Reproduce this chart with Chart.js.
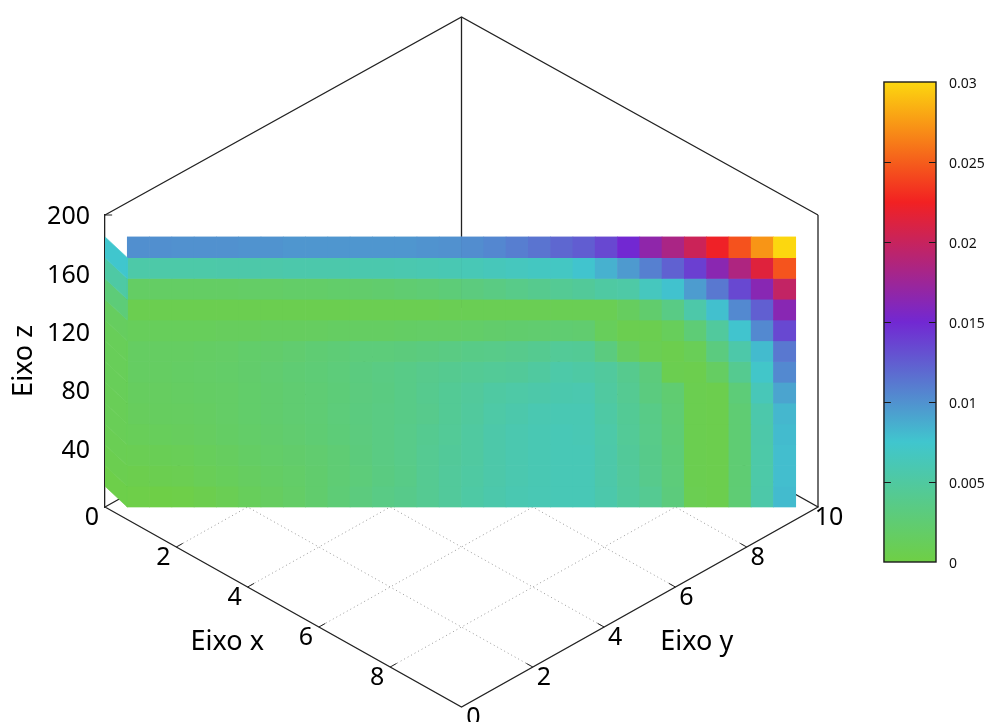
<!DOCTYPE html>
<html>
<head>
<meta charset="utf-8">
<style>html,body{margin:0;padding:0;background:#fff}canvas{display:block}</style>
<script src="https://cdn.jsdelivr.net/npm/chart.js@4"></script>
</head>
<body>
<canvas id="c" width="988" height="722"></canvas>
<script>
// ---- data ----
const row0 =[.0101,.0101,.0100,.0100,.0100,.0099,.0099,.0098,.0098,.0098,.0098,.0098,.0098,.0099,.0100,.0102,.0105,.0109,.0114,.0120,.0125,.0135,.0150,.0167,.0183,.0202,.0223,.0245,.0273,.0300];
const row1 =[.0054,.0054,.0054,.0054,.0055,.0055,.0055,.0056,.0056,.0056,.0057,.0057,.0058,.0059,.0060,.0062,.0064,.0066,.0068,.0069,.0076,.0085,.0096,.0108,.0123,.0139,.0164,.0185,.0214,.0246];
const row2 =[.0017,.0017,.0017,.0017,.0017,.0018,.0018,.0019,.0019,.0020,.0021,.0022,.0024,.0026,.0028,.0031,.0034,.0037,.0040,.0043,.0046,.0051,.0053,.0066,.0077,.0095,.0112,.0135,.0163,.0197];
const row3 =[.0006,.0006,.0006,.0006,.0006,.0006,.0006,.0006,.0006,.0006,.0007,.0007,.0007,.0007,.0008,.0008,.0008,.0008,.0008,.0008,.0008,.0008,.0014,.0022,.0035,.0055,.0078,.0104,.0124,.0163];
const row4 =[.0012,.0012,.0012,.0012,.0013,.0013,.0014,.0014,.0015,.0016,.0016,.0016,.0017,.0018,.0018,.0019,.0021,.0022,.0023,.0024,.0023,.0012,.0006,.0006,.0012,.0027,.0048,.0076,.0104,.0135];
const row5 =[.0016,.0016,.0016,.0017,.0018,.0020,.0021,.0023,.0025,.0027,.0029,.0029,.0030,.0032,.0034,.0036,.0037,.0039,.0041,.0045,.0044,.0032,.0016,.0008,.0005,.0010,.0032,.0055,.0080,.0112];
const row6 =[.0016,.0016,.0017,.0018,.0019,.0021,.0023,.0025,.0027,.0029,.0032,.0034,.0036,.0039,.0041,.0043,.0045,.0046,.0049,.0054,.0052,.0048,.0040,.0030,.0006,.0005,.0016,.0041,.0072,.0104];
const row7 =[.0014,.0015,.0016,.0017,.0018,.0020,.0022,.0024,.0026,.0028,.0031,.0033,.0036,.0040,.0044,.0047,.0051,.0053,.0055,.0057,.0058,.0050,.0042,.0032,.0024,.0006,.0005,.0028,.0063,.0091];
const row8 =[.0013,.0014,.0015,.0016,.0018,.0020,.0022,.0024,.0026,.0029,.0032,.0034,.0036,.0039,.0044,.0048,.0053,.0056,.0059,.0060,.0060,.0052,.0044,.0036,.0026,.0006,.0005,.0025,.0056,.0082];
const row9 =[.0011,.0012,.0013,.0015,.0017,.0019,.0021,.0023,.0025,.0028,.0031,.0034,.0037,.0041,.0045,.0050,.0055,.0058,.0060,.0062,.0061,.0054,.0045,.0037,.0027,.0006,.0005,.0025,.0055,.0080];
const row10=[.0008,.0009,.0010,.0012,.0014,.0017,.0019,.0021,.0023,.0026,.0030,.0034,.0037,.0042,.0046,.0050,.0055,.0058,.0060,.0062,.0062,.0055,.0046,.0038,.0028,.0006,.0005,.0025,.0054,.0079];
const row11=[.0005,.0006,.0007,.0010,.0012,.0015,.0017,.0019,.0022,.0026,.0029,.0033,.0036,.0042,.0047,.0051,.0055,.0058,.0060,.0062,.0062,.0055,.0047,.0039,.0029,.0006,.0005,.0025,.0054,.0079];
const row12=[.0002,.0001,.0002,.0005,.0008,.0012,.0015,.0018,.0022,.0027,.0031,.0035,.0038,.0042,.0047,.0052,.0056,.0059,.0061,.0062,.0062,.0056,.0048,.0042,.0030,.0007,.0005,.0026,.0055,.0080];
const sideColumn=[.0075,.0052,.0028,.0014,.0011,.0011,.0011,.0010,.0010,.0008,.0006,.0003];
const rows=[row0,row1,row2,row3,row4,row5,row6,row7,row8,row9,row10,row11,row12];

const xTicks=[0,2,4,6,8];
const yTicks=[2,4,6,8,10];
const zTicks=[0,40,80,120,160,200];
const cbTicks=[0,0.005,0.01,0.015,0.02,0.025,0.03];
const cbLabels=['0','0.005','0.01','0.015','0.02','0.025','0.03'];
const paletteStops=[[0,[111,207,69]],[0.0075,[64,198,206]],[0.015,[114,40,210]],[0.0225,[242,33,34]],[0.03,[252,215,15]]];

// ---- helpers ----
const FONT='"Noto Sans", sans-serif';
const surfaceTop=185, rowStep=surfaceTop/13, colStep=0.625, K=13.7, backTop=198.6;
const colour=v=>{
  for(let i=1;i<paletteStops.length;i++){
    const [a,ca]=paletteStops[i-1],[b,cb]=paletteStops[i];
    if(v<=b){const t=(v-a)/(b-a);return `rgb(${ca.map((c,j)=>Math.round(c+(cb[j]-c)*t)).join(',')})`;}
  }
  return 'rgb(252,215,15)';
};
const project=(x,y,z)=>({x:x+y,y:z+(y-x)*K});
const edge=r=>Math.max(0,surfaceTop-r*rowStep);

const lineDs=(pts,color,width,dash,order)=>({type:'line',xAxisID:'x',yAxisID:'y',data:pts,borderColor:color,borderWidth:width,borderDash:dash||[],pointRadius:0,fill:false,tension:0,clip:false,order});

const datasets=[];
// base grid
[2,4,6,8].forEach(t=>{
  datasets.push(lineDs([project(t,0,0),project(t,10,0)],'#999',1,[1,3],6));
  datasets.push(lineDs([project(0,t,0),project(10,t,0)],'#999',1,[1,3],6));
});
// box
const INK='#222';
const BW=1.3;
datasets.push(lineDs([project(0,0,0),project(10,0,0),project(10,10,0),project(0,10,0),project(0,0,0)],INK,BW,[],5));
datasets.push(lineDs([project(10,10,0),project(10,10,200)],INK,BW,[],5));
datasets.push(lineDs([project(0,0,200),project(0,10,backTop),project(10,10,200)],INK,BW,[],5));
datasets.push(lineDs([project(0,10,0),project(0,10,backTop)],INK,BW,[],5));
// tick marks
[2,4,6,8].forEach(t=>{
  datasets.push(lineDs([project(t,0,0),project(t,0.18,0)],INK,1,[],5));
  datasets.push(lineDs([project(10,t,0),project(9.82,t,0)],INK,1,[],5));
});
datasets.push(lineDs([{x:0,y:200},{x:0.2,y:200}],INK,1,[],5));
// surface: side column (slanted cells)
sideColumn.forEach((v,r)=>{
  const pts=[{x:0,y:edge(r)},{x:colStep,y:edge(r+1)},{x:colStep,y:edge(r+2)},{x:0,y:edge(r+1)}];
  datasets.push({type:'line',xAxisID:'x',yAxisID:'y',data:pts,borderWidth:0.7,borderColor:colour(v),pointRadius:0,tension:0,fill:'shape',backgroundColor:colour(v),order:1,clip:false});
});
// surface: front face cells as floating bars
const categories=Array.from({length:32},(_,i)=>'c'+i);
rows.forEach((vals,r)=>{
  datasets.push({type:'bar',xAxisID:'xc',yAxisID:'y',grouped:false,barPercentage:1,categoryPercentage:1,order:1,clip:false,
    data:categories.map((_,i)=>(i>=1&&i<=30)?[edge(r+1),edge(r)]:null),
    backgroundColor:categories.map((_,i)=>(i>=1&&i<=30)?colour(vals[i-1]):'transparent'),
    borderWidth:0});
});

const labelsPlugin={
  id:'labels',
  afterDraw(chart){
    const {ctx,scales:{x,y,c}}=chart;
    const px=p=>[x.getPixelForValue(p.x),y.getPixelForValue(p.y)];
    ctx.save();
    // colour box
    const L=x.getPixelForValue(21.85),R=x.getPixelForValue(23.31);
    const T=c.getPixelForValue(0.03),B=c.getPixelForValue(0);
    const g=ctx.createLinearGradient(0,B,0,T);
    paletteStops.forEach(([v,col])=>g.addColorStop(v/0.03,`rgb(${col.join(',')})`));
    ctx.fillStyle=g;ctx.fillRect(L,T,R-L,B-T);
    ctx.strokeStyle='#1a1a1a';ctx.lineWidth=1.4;ctx.strokeRect(L,T,R-L,B-T);
    ctx.lineWidth=1;
    ctx.font='14px '+FONT;ctx.fillStyle='#111';ctx.textAlign='left';ctx.textBaseline='middle';
    cbTicks.forEach((t,i)=>{
      const py=Math.round(c.getPixelForValue(t))+.5;
      if(i>0&&i<cbTicks.length-1){
        ctx.beginPath();ctx.moveTo(L,py);ctx.lineTo(L+7,py);ctx.moveTo(R,py);ctx.lineTo(R-7,py);ctx.stroke();
      }
      ctx.fillText(cbLabels[i],R+13,py+2);
    });
    // base axis tick labels
    ctx.font='25px '+FONT;ctx.fillStyle='#000';ctx.textAlign='center';
    xTicks.forEach(t=>{const [a,b]=px(project(t,0,0));ctx.fillText(String(t),a-13,b+11);});
    yTicks.forEach(t=>{const [a,b]=px(project(10,t,0));ctx.fillText(String(t),a+11,b+11);});
    const [xa,xb]=px(project(10,0,0));ctx.fillText('0',xa+12,xb+11);
    ctx.font='27px '+FONT;
    const [ax,ay]=px(project(5,0,0));ctx.fillText('Eixo x',ax-56,ay+35);
    const [bx,by]=px(project(10,5,0));ctx.fillText('Eixo y',bx+57,by+35);
    ctx.restore();
  }
};

new Chart(document.getElementById('c'),{
  type:'bar',
  data:{labels:categories,datasets},
  plugins:[labelsPlugin],
  options:{
    responsive:false,animation:false,events:[],
    layout:{padding:{top:215,right:170,bottom:215,left:0}},
    plugins:{legend:{display:false},tooltip:{enabled:false},title:{display:false}},
    scales:{
      x:{type:'linear',display:false,min:0,max:20,offset:false},
      xc:{type:'category',display:false,offset:true,labels:categories,grid:{offset:true}},
      c:{type:'linear',display:false,position:'right',min:(562-507)/16000,max:(562-215)/16000},
      y:{type:'linear',position:'left',min:0,max:200,
        afterFit(s){s.width=105;},
        afterBuildTicks(s){s.ticks=zTicks.map(v=>({value:v}));},
        grid:{display:false,drawTicks:false},
        border:{display:true,color:INK,width:1.3},
        ticks:{padding:15,labelOffset:2,color:'#000',font:{family:FONT,size:25},autoSkip:false,
          callback:v=>v===0?'':String(v)},
        title:{display:true,text:'Eixo z',color:'#000',font:{family:FONT,size:27},padding:{top:8,bottom:0}}
      }
    }
  }
});
</script>
</body>
</html>
